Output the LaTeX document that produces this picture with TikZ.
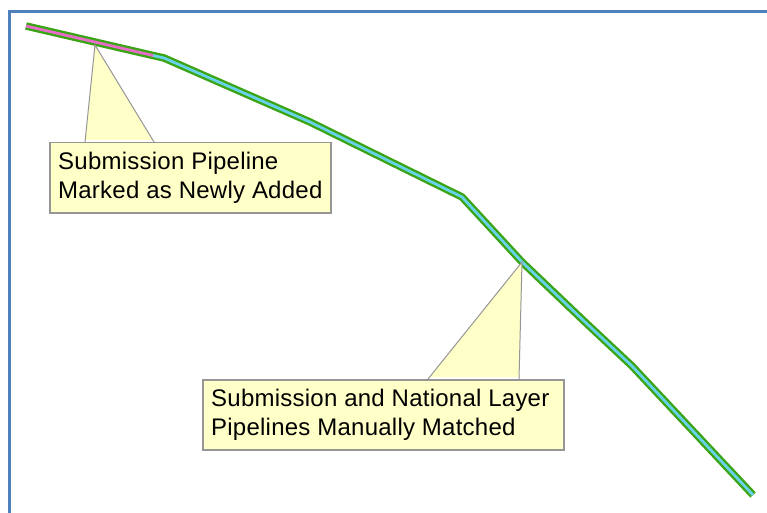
\documentclass[tikz,border=0pt]{standalone}
\usepackage{fontspec}
\setmainfont{Liberation Sans}
\newfontfamily\callfont[LetterSpace=1]{Liberation Sans}
\definecolor{framebl}{RGB}{79,129,189}
\definecolor{pipegreen}{RGB}{58,165,20}
\definecolor{pipecyan}{RGB}{105,210,235}
\definecolor{pipepink}{RGB}{230,110,200}
\definecolor{callfill}{RGB}{255,255,200}
\definecolor{callline}{RGB}{150,150,150}
\tikzset{
  callbox/.style={draw=callline, line width=1.5pt, fill=callfill, anchor=north west, inner sep=0pt},
  calltext/.style={anchor=west, align=left, inner sep=0pt, font=\callfont\fontsize{24}{28.5}\selectfont},
  pipeout/.style={draw=pipegreen, line width=7.5pt, line join=round},
  pipein/.style={draw=pipecyan, line width=2.8pt, line join=round},
  pipenew/.style={draw=pipepink, line width=2.8pt, line join=round},
}
\begin{document}
\begin{tikzpicture}[x=1pt, y=-1pt]
\useasboundingbox (0,0) rectangle (767,513);
\fill[white] (0,0) rectangle (767,513);
% frame
\draw[framebl, line width=3pt] (9,515) -- (9,12) -- (770,12);
% pipeline coordinates
\coordinate (p0) at (26,26);
\coordinate (p1) at (153,55.5);
\coordinate (p2) at (164,58);
\coordinate (p3) at (310,122);
\coordinate (p4) at (462,197);
\coordinate (p5) at (522,262);
\coordinate (p6) at (585,322);
\coordinate (p7) at (632,366);
\coordinate (p8) at (753,495);
\draw[pipeout] (p0) -- (p1) -- (p2) -- (p3) -- (p4) -- (p5) -- (p6) -- (p7) -- (p8);
\draw[pipein] (p1) -- (p2) -- (p3) -- (p4) -- (p5) -- (p6) -- (p7) -- (p8);
\draw[pipenew] (p0) -- (p1);
% callout 1
\node[callbox, minimum width=281pt, minimum height=70pt] (c1) at (49,142) {};
\coordinate (c1tip) at (95,45);
\coordinate (c1a) at (85,142);
\coordinate (c1b) at (154,142);
\fill[callfill] (c1a) -- (c1tip) -- (c1b) -- ([yshift=2]c1b) -- ([yshift=2]c1a) -- cycle;
\draw[callline, line width=1pt] (c1a) -- (c1tip) -- (c1b);
\node[calltext] (t1) at ([xshift=9]c1.west) {Submission Pipeline\\Marked as Newly Added};
% callout 2
\node[callbox, minimum width=361pt, minimum height=70pt] (c2) at (202,379) {};
\coordinate (c2tip) at (522,262);
\coordinate (c2a) at (428,379);
\coordinate (c2b) at (519,379);
\fill[callfill] (c2a) -- (c2tip) -- (c2b) -- ([yshift=2]c2b) -- ([yshift=2]c2a) -- cycle;
\draw[callline, line width=1pt] (c2a) -- (c2tip) -- (c2b);
\node[calltext] (t2) at ([xshift=9]c2.west) {Submission and National Layer\\Pipelines Manually Matched};
\end{tikzpicture}
\end{document}
